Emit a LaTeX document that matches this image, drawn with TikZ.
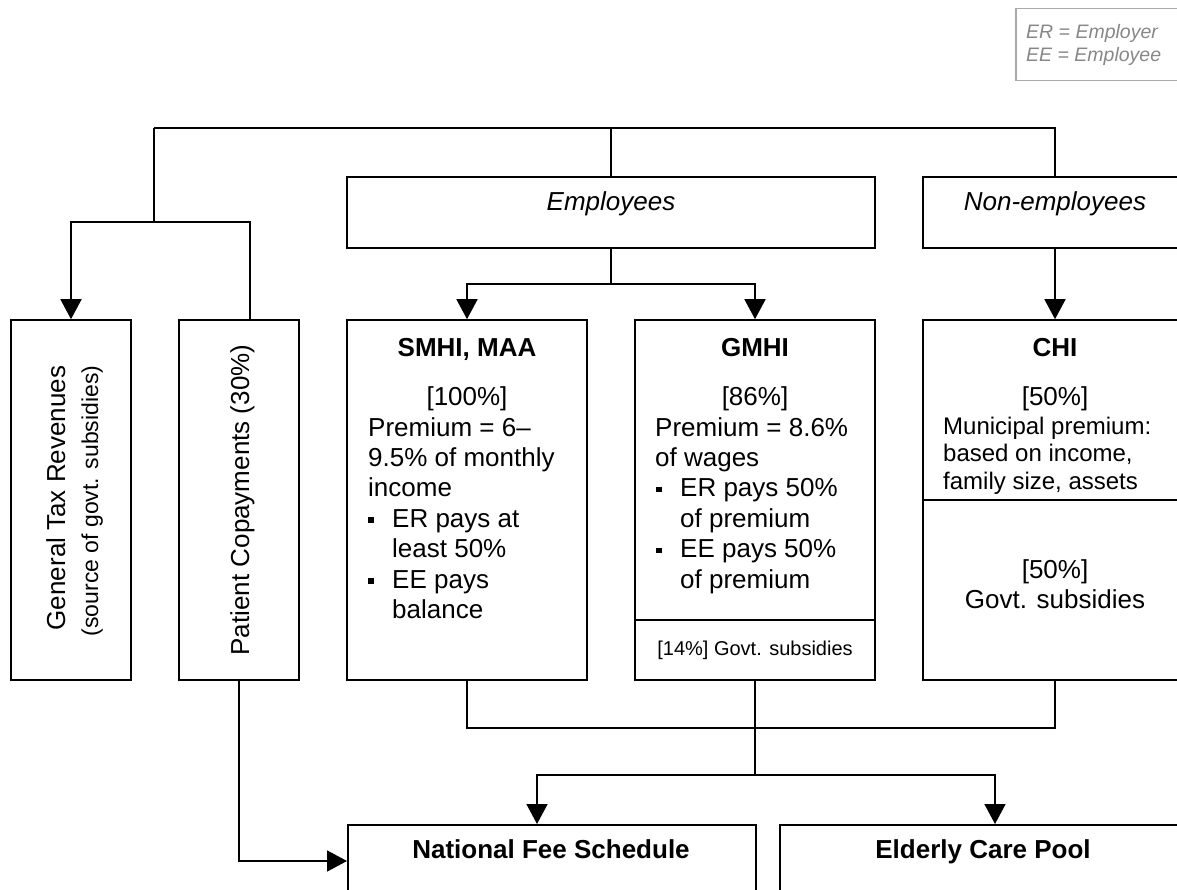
\documentclass[tikz,border=0pt]{standalone}
\usepackage{fontspec}
\setmainfont{Liberation Sans}
\usetikzlibrary{arrows.meta}
\definecolor{keygray}{RGB}{135,135,135}
\definecolor{keyline}{RGB}{170,170,170}
\newcommand{\sqbul}{\raisebox{4.5pt}{\rule{5.5pt}{5.5pt}}}
\begin{document}
\begin{tikzpicture}[x=1pt,y=-1pt,
  box/.style={draw=black, line width=1.6pt, inner sep=0pt, fill=white},
  link/.style={draw=black, line width=1.6pt},
  arr/.style={link, -{Triangle[width=21pt,length=20pt]}},
  txt/.style={anchor=base, inner sep=0pt, font=\fontsize{26}{30}\selectfont},
  txtl/.style={txt, anchor=base west},
  head/.style={txt, font=\fontsize{26}{30}\selectfont\bfseries},
  grp/.style={txt, font=\fontsize{26}{30}\selectfont\itshape},
  small/.style={txt, font=\fontsize{24}{28}\selectfont},
  smalll/.style={small, anchor=base west},
  keytxt/.style={anchor=base west, inner sep=0pt, text=keygray, font=\fontsize{19.5}{23}\selectfont\itshape},
]
\useasboundingbox (0,0) rectangle (1177,890);
\clip (0,0) rectangle (1177,890);

% legend box
\node[draw=keyline, line width=1.5pt, inner sep=0pt, minimum width=260pt, minimum height=72pt, anchor=north west] (key) at (1015,8) {};
\node[keytxt] at (1026,39) {ER = Employer};
\node[keytxt] at (1026,62) {EE = Employee};

% group boxes
\node[box, minimum width=528pt, minimum height=71pt] (emp) at (611,212.5) {};
\node[box, minimum width=264pt, minimum height=71pt] (nonemp) at (1055,212.5) {};

% source boxes
\node[box, minimum width=120pt, minimum height=360pt] (gtr) at (71,500) {};
\node[box, minimum width=120pt, minimum height=360pt] (pc) at (239,500) {};
\node[box, minimum width=240pt, minimum height=360pt] (smhi) at (467,500) {};
\node[box, minimum width=240pt, minimum height=360pt] (gmhi) at (755,500) {};
\node[box, minimum width=264pt, minimum height=360pt] (chi) at (1055,500) {};
\draw[link] (gmhi.west |- 0,620) -- (gmhi.east |- 0,620);
\draw[link] (chi.west |- 0,500) -- (chi.east |- 0,500);

% pools
\node[box, minimum width=408pt, minimum height=120pt, anchor=north west] (nfs) at (347,824) {};
\node[box, minimum width=408pt, minimum height=120pt, anchor=north west] (ecp) at (779,824) {};

% top distribution
\coordinate (tl) at (154,128);
\coordinate (tsplit) at (154,222);
\coordinate (pcin) at (250,320);
\draw[link] (tl) -- (tl -| nonemp.north) -- (nonemp.north);
\draw[link] (emp.north) -- (emp.north |- tl);
\draw[link] (tl) -- (tsplit);
\draw[arr] (tsplit) -| (gtr.north);
\draw[link] (tsplit) -| (pcin);

% employees / non-employees branches
\coordinate (ebr) at (emp.south |- 0,284);
\draw[link] (emp.south) -- (ebr);
\draw[arr] (ebr) -| (smhi.north);
\draw[arr] (ebr) -| (gmhi.north);
\draw[arr] (nonemp.south) -- (chi.north);

% collection into the pools
\coordinate (bj) at (gmhi.south |- 0,728);
\coordinate (bs) at (gmhi.south |- 0,775);
\coordinate (nfsin) at (537,824);
\coordinate (ecpin) at (995,824);
\coordinate (nfsw) at (nfs.west |- 0,861);
\draw[link] (smhi.south) |- (bj) -| (chi.south);
\draw[link] (gmhi.south) -- (bs);
\draw[arr] (bs) -| (nfsin);
\draw[arr] (bs) -| (ecpin);
\draw[arr] (pc.south) |- (nfsw);

% group labels
\node[grp] at (611,211) {Employees};
\node[grp] at (1055,211) {Non-employees};

% vertical labels
\node[txt, rotate=90] at (65,498) {General Tax Revenues};
\node[txt, rotate=90, font=\fontsize{23}{28}\selectfont] at (98,501) {(source of govt. subsidies)};
\node[txt, rotate=90] at (249,500) {Patient Copayments (30\%)};

% SMHI, MAA
\node[head] at (467,356) {SMHI, MAA};
\node[txt] at (467,405) {[100\%]};
\node[txtl] at (368,436) {Premium = 6\textendash};
\node[txtl] at (368,466.4) {9.5\% of monthly};
\node[txtl] at (368,496.8) {income};
\node[txtl] at (368,527.2) {\sqbul};
\node[txtl] at (392,527.2) {ER pays at};
\node[txtl] at (392,557.6) {least 50\%};
\node[txtl] at (368,588) {\sqbul};
\node[txtl] at (392,588) {EE pays};
\node[txtl] at (392,618.4) {balance};

% GMHI
\node[head] at (755,356) {GMHI};
\node[txt] at (755,405) {[86\%]};
\node[txtl] at (655,436) {Premium = 8.6\%};
\node[txtl] at (655,466.4) {of wages};
\node[txtl] at (656,496.8) {\sqbul};
\node[txtl] at (680,496.8) {ER pays 50\%};
\node[txtl] at (680,527.2) {of premium};
\node[txtl] at (656,557.6) {\sqbul};
\node[txtl] at (680,557.6) {EE pays 50\%};
\node[txtl] at (680,588) {of premium};
\node[txt, font=\fontsize{20}{24}\selectfont] at (755,655) {[14\%] Govt. subsidies};

% CHI
\node[head] at (1055,356) {CHI};
\node[txt] at (1055,405) {[50\%]};
\node[smalll] at (943,434) {Municipal premium:};
\node[smalll] at (943,461.5) {based on income,};
\node[smalll] at (943,489) {family size, assets};
\node[txt] at (1055,578) {[50\%]};
\node[txt] at (1055,608) {Govt. subsidies};

% pools
\node[head] at (551,858) {National Fee Schedule};
\node[head] at (983,858) {Elderly Care Pool};
\end{tikzpicture}
\end{document}
